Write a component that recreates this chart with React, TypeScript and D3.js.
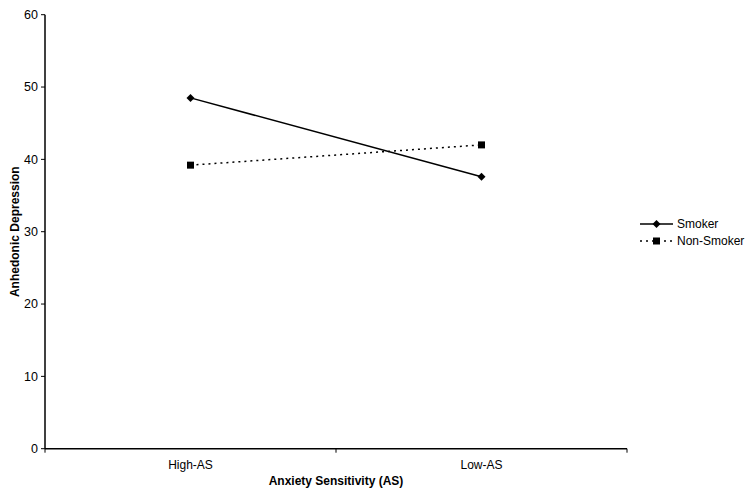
import React from "react";
import * as d3 from "d3";

const categories = ["High-AS", "Low-AS"];
const smoker = [48.5, 37.6];
const nonSmoker = [39.2, 42.0];
const yTicks = [0, 10, 20, 30, 40, 50, 60];
const seriesNames = ["Smoker", "Non-Smoker"];

export default function App() {
  const W = 750, H = 501;
  const left = 45, right = 627, top = 14.7, bottom = 448.7;
  const x = d3.scaleBand<string>().domain(categories).range([left, right]);
  const y = d3.scaleLinear().domain([0, 60]).range([bottom, top]);
  const cx = (c: string) => (x(c) as number) + x.bandwidth() / 2;
  const line = d3.line<number>().x((_, i) => cx(categories[i])).y((d) => y(d));
  const font = "'Liberation Sans', Arial, sans-serif";
  const diamond = (s: number) => `M0,${-s}L${s},0L0,${s}L${-s},0Z`;
  const square = (s: number) => `M${-s},${-s}H${s}V${s}H${-s}Z`;
  const xTickPos = [left, ...categories.slice(1).map((c) => x(c) as number), right];

  return (
    <svg width={W} height={H} style={{ position: "absolute", left: 0, top: 0, background: "#fff" }}>
      {/* axes */}
      <line x1={left} x2={left} y1={top} y2={bottom} stroke="#000" strokeWidth={1.5} />
      <line x1={left} x2={right} y1={bottom} y2={bottom} stroke="#000" strokeWidth={1.5} />
      {yTicks.map((t) => (
        <g key={t}>
          <line x1={left - 4} x2={left} y1={y(t)} y2={y(t)} stroke="#000" strokeWidth={1} />
          <text x={left - 7} y={y(t)} dy="0.35em" textAnchor="end" fontFamily={font} fontSize={12.5} fill="#000">
            {t}
          </text>
        </g>
      ))}
      {xTickPos.map((p, i) => (
        <line key={i} x1={p} x2={p} y1={bottom} y2={bottom + 4} stroke="#000" strokeWidth={1} />
      ))}
      {categories.map((c) => (
        <text key={c} x={cx(c)} y={469} textAnchor="middle" fontFamily={font} fontSize={12} fill="#000">
          {c}
        </text>
      ))}
      <text x={(left + right) / 2} y={485} textAnchor="middle" fontFamily={font} fontSize={12} fontWeight="bold" fill="#000">
        Anxiety Sensitivity (AS)
      </text>
      <text
        transform={`translate(19,${(top + bottom) / 2}) rotate(-90)`}
        textAnchor="middle"
        fontFamily={font}
        fontSize={12}
        fontWeight="bold"
        fill="#000"
      >
        Anhedonic Depression
      </text>

      {/* series */}
      <path d={line(smoker) as string} fill="none" stroke="#000" strokeWidth={1.5} />
      {smoker.map((v, i) => (
        <path key={i} d={diamond(4)} transform={`translate(${cx(categories[i])},${y(v)})`} fill="#000" />
      ))}
      <path d={line(nonSmoker) as string} fill="none" stroke="#000" strokeWidth={1.5} strokeDasharray="2,4" />
      {nonSmoker.map((v, i) => (
        <path key={i} d={square(3.5)} transform={`translate(${cx(categories[i])},${y(v)})`} fill="#000" />
      ))}

      {/* legend */}
      <g>
        <line x1={640} x2={673} y1={224} y2={224} stroke="#000" strokeWidth={1.5} />
        <path d={diamond(4)} transform="translate(656.5,224)" fill="#000" />
        <text x={677} y={224} dy="0.35em" fontFamily={font} fontSize={12} fill="#000">
          {seriesNames[0]}
        </text>
        <line x1={640} x2={673} y1={241} y2={241} stroke="#000" strokeWidth={1.5} strokeDasharray="2,4" />
        <path d={square(3.5)} transform="translate(656.5,241)" fill="#000" />
        <text x={677} y={241} dy="0.35em" fontFamily={font} fontSize={12} fill="#000">
          {seriesNames[1]}
        </text>
      </g>
    </svg>
  );
}
